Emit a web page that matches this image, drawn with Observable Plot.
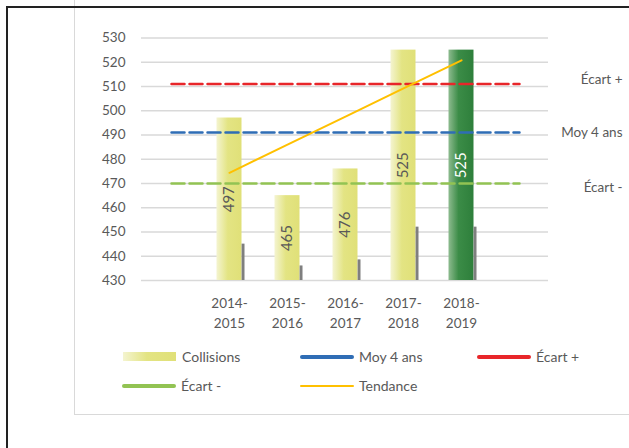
<!DOCTYPE html>
<html><head><meta charset="utf-8">
<script src="https://cdn.jsdelivr.net/npm/d3@7"></script>
<script src="https://cdn.jsdelivr.net/npm/@observablehq/plot@0.6"></script>
<style>
body{margin:0;background:#fff;font-family:Lato,sans-serif;}
#wrap{position:relative;width:629px;height:448px;overflow:hidden;background:#fff;}
#frame{position:absolute;left:6px;top:6px;width:700px;height:500px;border-left:2px solid #222;border-top:2px solid #222;}
#inner{position:absolute;left:74px;top:-10px;width:620px;height:423px;border:1px solid #d9d9d9;}
#chart{position:absolute;left:0;top:0;}
.leg{position:absolute;font-size:14px;color:#595959;line-height:14px;white-space:nowrap;}
.sw{position:absolute;}
</style></head>
<body>
<div id="wrap">
  <div id="inner"></div>
  <div id="frame"></div>
  <div id="chart"></div>
  <div id="legend"></div>
</div>
<script>
const periods = ["2014-2015","2015-2016","2016-2017","2017-2018","2018-2019"];
const collisions = [497,465,476,525,525];
const secondary = [445,436,438.5,452,452];
const tendance = [474.4,486.0,497.6,509.2,520.8];
const moy4ans = 491, ecartPlus = 511, ecartMoins = 470;
const yTicks = [430,440,450,460,470,480,490,500,510,520,530];
const padCats = ["_a","_b"];
const yMin = 430, yMax = 530;
const highlight = "2018-2019";

const rows = periods.map((p,i)=>({period:p, v:collisions[i], s:secondary[i], t:tendance[i]}));
const xDomain = [padCats[0], ...periods, padCats[1]];
const refLine = (v)=>[{x:padCats[0], y:v},{x:padCats[1], y:v}];

const font = {fontSize:13.5, fill:"#595959"};
const plot = Plot.plot({
  width:629, height:340,
  marginLeft:141, marginRight:81, marginTop:37.5, marginBottom:60,
  style:{background:"transparent", fontFamily:"Lato, sans-serif", fontSize:"13.5px", color:"#595959", overflow:"visible"},
  x:{type:"band", domain:xDomain, padding:0, axis:null},
  y:{domain:[yMin,yMax], axis:null},
  marks:[
    Plot.gridY(yTicks,{stroke:"#d9d9d9", strokeOpacity:1, strokeWidth:1.4}),
    Plot.barY(rows.filter(d=>d.period!==highlight),{x:"period", y1:yMin, y2:"v", fill:"url(#gYellow)", insetLeft:16.5, insetRight:16.5}),
    Plot.barY(rows.filter(d=>d.period===highlight),{x:"period", y1:yMin, y2:"v", fill:"url(#gGreen)", insetLeft:16.5, insetRight:16.5}),
    Plot.barY(rows,{x:"period", y1:yMin, y2:"s", fill:"#7f7f7f", insetLeft:41.6, insetRight:13.5}),
    Plot.line(refLine(ecartPlus),{x:"x", y:"y", stroke:"#e8262a", strokeWidth:2.5, strokeDasharray:"13,5"}),
    Plot.line(refLine(moy4ans),{x:"x", y:"y", stroke:"#2f6db5", strokeWidth:2.5, strokeDasharray:"13,5"}),
    Plot.line(refLine(ecartMoins),{x:"x", y:"y", stroke:"#92c353", strokeWidth:2.5, strokeDasharray:"13,5"}),
    Plot.text(rows.filter(d=>d.period!==highlight),{x:"period", y:d=>(yMin+d.v)/2, text:d=>String(d.v), rotate:-90, fontSize:15, fill:"#595959"}),
    Plot.text(rows.filter(d=>d.period===highlight),{x:"period", y:d=>(yMin+d.v)/2, text:d=>String(d.v), rotate:-90, fontSize:15, fill:"#ffffff"}),
    Plot.line(rows,{x:"period", y:"t", stroke:"#ffc000", strokeWidth:2}),
    Plot.text([{y:ecartPlus, t:"Écart +"}],{y:"y", text:"t", frameAnchor:"right", textAnchor:"end", dx:74, dy:-4, ...font}),
    Plot.text([{y:moy4ans, t:"Moy 4 ans"}],{y:"y", text:"t", frameAnchor:"right", textAnchor:"end", dx:74, dy:0, ...font}),
    Plot.text([{y:ecartMoins, t:"Écart -"}],{y:"y", text:"t", frameAnchor:"right", textAnchor:"end", dx:74, dy:4, ...font}),
    Plot.axisY(yTicks,{tickSize:0, tickPadding:16, label:null, ...font}),
    Plot.axisX(periods,{tickSize:0, tickPadding:14, label:null, lineHeight:1.45, tickFormat:d=>d.replace("-","-\n"), ...font})
  ]
});
const svg = d3.select(plot);
const defs = svg.insert("defs",":first-child");
const g1 = defs.append("linearGradient").attr("id","gYellow").attr("x1","0").attr("x2","1").attr("y1","0").attr("y2","0");
g1.append("stop").attr("offset","0%").attr("stop-color","#f4f4d0");
g1.append("stop").attr("offset","45%").attr("stop-color","#e3e483");
g1.append("stop").attr("offset","100%").attr("stop-color","#e0e078");
const g2 = defs.append("linearGradient").attr("id","gGreen").attr("x1","0").attr("x2","1").attr("y1","0").attr("y2","0");
g2.append("stop").attr("offset","0%").attr("stop-color","#8dbb8f");
g2.append("stop").attr("offset","40%").attr("stop-color","#3b8c47");
g2.append("stop").attr("offset","100%").attr("stop-color","#2e7f3b");
document.getElementById("chart").appendChild(plot);

// legend
const legendItems = [
  {label:"Collisions", type:"rect", x:123, y:356.5},
  {label:"Moy 4 ans", type:"line", color:"#2f6db5", w:4, x:300, y:356.5},
  {label:"Écart +", type:"line", color:"#e8262a", w:4, x:477, y:356.5},
  {label:"Écart -", type:"line", color:"#92c353", w:4, x:122, y:386},
  {label:"Tendance", type:"line", color:"#ffc000", w:2, x:300, y:386}
];
const leg = document.getElementById("legend");
legendItems.forEach(it=>{
  const sw = document.createElement("div");
  sw.className="sw";
  if(it.type==="rect"){
    Object.assign(sw.style,{left:it.x+"px", top:(it.y-4.5)+"px", width:"53px", height:"9px", background:"linear-gradient(90deg,#f4f4d0 0%,#e3e483 45%,#e0e078 100%)"});
  } else {
    Object.assign(sw.style,{left:it.x+"px", top:(it.y-it.w/2)+"px", width:"54px", height:it.w+"px", background:it.color, borderRadius:(it.w/2)+"px"});
  }
  leg.appendChild(sw);
  const t = document.createElement("div");
  t.className="leg";
  t.textContent = it.label;
  Object.assign(t.style,{left:(it.x+59)+"px", top:(it.y-7)+"px"});
  leg.appendChild(t);
});
</script>
</body></html>
